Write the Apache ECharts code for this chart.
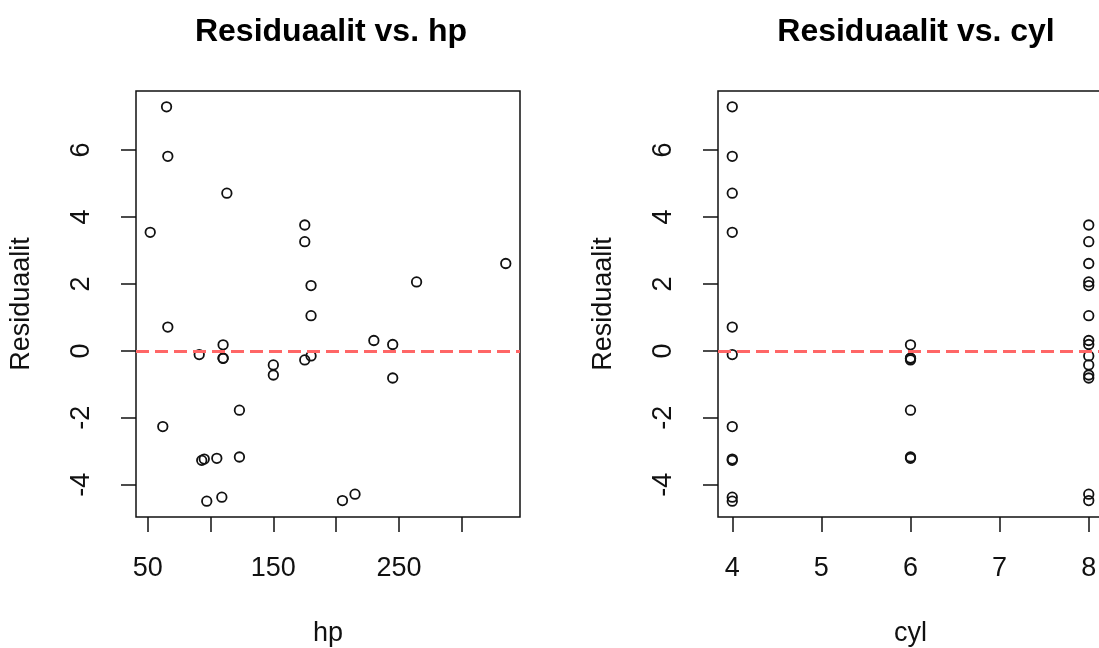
<!DOCTYPE html>
<html>
<head>
<meta charset="utf-8">
<script src="https://cdn.jsdelivr.net/npm/echarts@6/dist/echarts.min.js"></script>
<style>
html,body{margin:0;padding:0;background:#fff;overflow:hidden}
#c{width:1099px;height:648px}
</style>
</head>
<body>
<div id="c"></div>
<script>
// mtcars, residuals of lm(mpg ~ hp + cyl)
const cars = ["Mazda RX4","Mazda RX4 Wag","Datsun 710","Hornet 4 Drive","Hornet Sportabout","Valiant","Duster 360","Merc 240D","Merc 230","Merc 280","Merc 280C","Merc 450SE","Merc 450SL","Merc 450SLC","Cadillac Fleetwood","Lincoln Continental","Chrysler Imperial","Fiat 128","Honda Civic","Toyota Corolla","Toyota Corona","Dodge Challenger","AMC Javelin","Camaro Z28","Pontiac Firebird","Fiat X1-9","Porsche 914-2","Lotus Europa","Ford Pantera L","Ferrari Dino","Maserati Bora","Volvo 142E"];
const hp = [110,110,93,110,175,105,245,62,95,123,123,180,180,180,205,215,230,66,52,65,97,150,150,245,175,66,91,113,264,175,335,109];
const cyl = [6,6,4,6,8,6,8,4,4,6,6,8,8,8,8,8,8,4,4,4,4,8,8,8,8,4,4,4,8,6,8,4];
const residuals = [-0.22,-0.22,-3.27,0.18,3.26,-3.21,0.19,-2.26,-3.23,-1.77,-3.17,1.05,1.95,-0.15,-4.47,-4.28,0.31,5.81,3.54,7.29,-4.49,-0.42,-0.72,-0.81,3.76,0.71,-0.11,4.71,2.06,-0.27,2.61,-4.37];
const hpTicks = [50,100,150,200,250,300];
const hpLabels = [50,150,250];
const cylTicks = [4,5,6,7,8];
const resTicks = [-4,-2,0,2,4,6];
const titles = ["Residuaalit vs. hp","Residuaalit vs. cyl"];
const xNames = ["hp","cyl"];
const yName = "Residuaalit";

function rng(arr){const lo=Math.min(...arr),hi=Math.max(...arr),p=(hi-lo)*0.04;return [lo-p,hi+p];}
const FONT = "'Liberation Sans', Arial, sans-serif";
const INK = '#111';

function xAxis(gi, r, ticks, labels, name){
  return {type:'value', gridIndex:gi, position:'bottom', min:r[0], max:r[1], name:name,
    nameLocation:'middle', nameGap:103,
    nameTextStyle:{fontSize:27,color:INK,fontFamily:FONT},
    axisLine:{show:false,onZero:false}, splitLine:{show:false},
    axisTick:{show:true,inside:false,length:15,lineStyle:{color:INK,width:1.5},customValues:ticks},
    axisLabel:{show:true,customValues:labels,fontSize:27,margin:38,color:INK,fontFamily:FONT}};
}
function yAxis(gi, r, ticks, name){
  return {type:'value', gridIndex:gi, position:'left', min:r[0], max:r[1], name:name,
    nameLocation:'middle', nameRotate:90, nameGap:101,
    nameTextStyle:{fontSize:27,color:INK,fontFamily:FONT},
    axisLine:{show:false,onZero:false}, splitLine:{show:false},
    axisTick:{show:true,inside:false,length:15,lineStyle:{color:INK,width:1.5},customValues:ticks},
    axisLabel:{show:true,customValues:ticks,rotate:90,fontSize:27,margin:41,color:INK,fontFamily:FONT}};
}
const yr = rng(residuals);
const refLine = {silent:true, symbol:'none', label:{show:false},
  lineStyle:{color:'#ff6666',width:3,type:[13,6],opacity:1},
  data:[{yAxis:0}]};
function scatter(gi, xs){
  return {type:'scatter', xAxisIndex:gi, yAxisIndex:gi,
    data: xs.map((x,i)=>[x,residuals[i]]),
    symbol:'circle', symbolSize:9.5,
    itemStyle:{color:'rgba(0,0,0,0)',borderColor:'#111',borderWidth:1.8,opacity:1},
    emphasis:{disabled:true}, markLine:refLine, z:3};
}
const chart = echarts.init(document.getElementById('c'));
chart.setOption({
  animation:false,
  backgroundColor:'#fff',
  title:[
    {text:titles[0],left:326,top:11,textAlign:'center',textStyle:{fontSize:32,fontWeight:'bold',color:'#000',fontFamily:FONT}},
    {text:titles[1],left:911,top:11,textAlign:'center',textStyle:{fontSize:32,fontWeight:'bold',color:'#000',fontFamily:FONT}}
  ],
  grid:[
    {left:136,top:91,width:384,height:426,outerBoundsMode:'none',containLabel:false,show:true,borderColor:'#111',borderWidth:1.5,backgroundColor:'transparent'},
    {left:718,top:91,width:385,height:426,outerBoundsMode:'none',containLabel:false,show:true,borderColor:'#111',borderWidth:1.5,backgroundColor:'transparent'}
  ],
  xAxis:[xAxis(0,rng(hp),hpTicks,hpLabels,xNames[0]), xAxis(1,rng(cyl),cylTicks,cylTicks,xNames[1])],
  yAxis:[yAxis(0,yr,resTicks,yName), yAxis(1,yr,resTicks,yName)],
  series:[scatter(0,hp), scatter(1,cyl)]
});
</script>
</body>
</html>
